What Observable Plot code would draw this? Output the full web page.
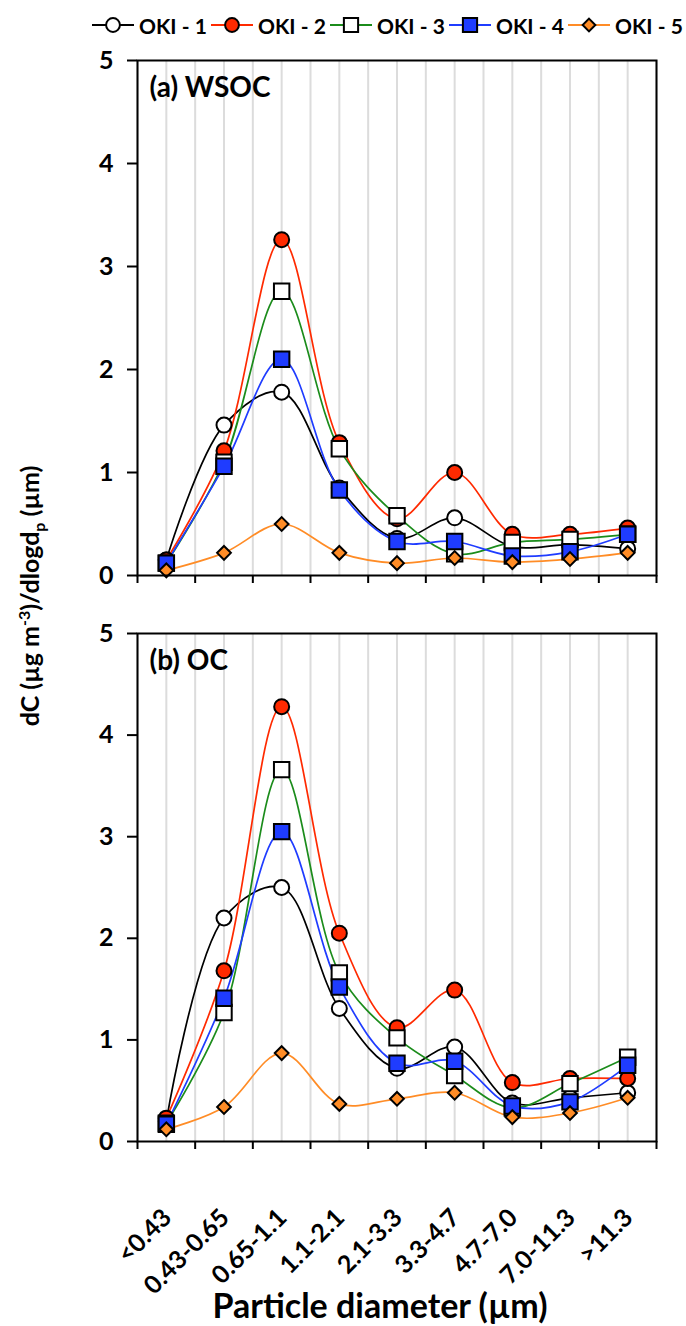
<!DOCTYPE html>
<html><head><meta charset="utf-8">
<script src="https://cdn.jsdelivr.net/npm/d3@7"></script>
<script src="https://cdn.jsdelivr.net/npm/@observablehq/plot@0.6"></script>
<style>
body{margin:0;background:#fff;font-family:Lato,"Open Sans",sans-serif;}
#root{position:relative;width:686px;height:1326px;overflow:hidden;background:#fff;}
.leg{position:absolute;top:13px;height:24px;display:flex;align-items:center;font-weight:bold;font-size:21px;white-space:nowrap;}
.leg svg{margin-right:5px;}
#ytitle{position:absolute;left:31px;top:596px;transform:translate(-50%,-50%) rotate(-90deg);font-weight:bold;font-size:25px;white-space:nowrap;}
#ytitle sup,#ytitle sub{font-size:16px;}
#xtitle{position:absolute;left:380px;top:1318px;transform:translate(-50%,-82%);font-weight:bold;font-size:34px;white-space:nowrap;}
</style></head><body><div id="root"></div>
<script>
// ---- data ----
const categories = ["<0.43","0.43-0.65","0.65-1.1","1.1-2.1","2.1-3.3","3.3-4.7","4.7-7.0","7.0-11.3",">11.3"];
const seriesNames = ["OKI - 1","OKI - 2","OKI - 3","OKI - 4","OKI - 5"];
const wsoc1 = [0.15,1.46,1.78,0.85,0.36,0.56,0.28,0.30,0.26];
const wsoc2 = [0.15,1.21,3.26,1.29,0.55,1.00,0.40,0.40,0.46];
const wsoc3 = [0.12,1.10,2.76,1.23,0.58,0.21,0.32,0.35,0.40];
const wsoc4 = [0.12,1.06,2.10,0.83,0.33,0.33,0.19,0.23,0.40];
const wsoc5 = [0.05,0.22,0.50,0.22,0.12,0.17,0.13,0.16,0.22];
const oc1 = [0.20,2.20,2.50,1.31,0.72,0.93,0.38,0.43,0.48];
const oc2 = [0.23,1.68,4.28,2.05,1.12,1.49,0.58,0.62,0.62];
const oc3 = [0.18,1.27,3.66,1.66,1.02,0.65,0.33,0.57,0.83];
const oc4 = [0.17,1.41,3.05,1.52,0.77,0.79,0.35,0.39,0.75];
const oc5 = [0.12,0.34,0.87,0.37,0.42,0.48,0.24,0.28,0.43];
const yTicks = [0,1,2,3,4,5];

// ---- styles ----
const lineColors = ["#000000","#ff2a00","#1b8c1b","#1f3cff","#ff8c26"];
const fillColors = ["#ffffff","#ff2a00","#ffffff","#1f3cff","#ff8c26"];
const symbols = ["circle","circle","square","square","diamond2"];
const radii = [7.5,7.5,8.7,8.7,6.2];
const FONT = "Lato, 'Open Sans', sans-serif";

const root = document.getElementById("root");

function makePanel(series, label, opt){
  const data = [];
  series.forEach((arr, s) => arr.forEach((v, i) => data.push({s, cat: categories[i], x: i + 0.5, y: v})));
  const marks = [
    Plot.gridX(d3.range(0, 9.001, 0.5), {stroke:"#dcdcdc", strokeOpacity:1, strokeWidth:2})
  ];
  series.forEach((arr, s) => {
    marks.push(Plot.line(data.filter(d => d.s === s), {x:"x", y:"y", curve:"catmull-rom", stroke: lineColors[s], strokeWidth:1.7}));
  });
  series.forEach((arr, s) => {
    marks.push(Plot.dot(data.filter(d => d.s === s), {x:"x", y:"y", symbol: () => symbols[s], r: radii[s], fill: fillColors[s], stroke:"#000", strokeWidth:2}));
  });
  marks.push(
    Plot.frame({stroke:"#000", strokeWidth:2}),
    Plot.axisY(yTicks, {tickSize:10, tickPadding:14, strokeWidth:2, fontSize:25, fontWeight:"bold", fill:"#000", tickFormat:"d", label:null}),
    Plot.axisX(d3.range(0, 10), {tickSize:8, strokeWidth:2, tickFormat:() => "", label:null}),
    Plot.text([label], {frameAnchor:"top-left", dx:12, dy:17, fontSize:28, fontWeight:"bold", fill:"#000", lineAnchor:"top", textAnchor:"start"})
  );
  if (opt.xlabels) {
    marks.push(Plot.axisX(d3.range(9).map(i => i + 0.5), {tickSize:0, tickPadding:52, tickRotate:-45, dx:1, dy:20, fontSize:25, fontWeight:"bold", fill:"#000", tickFormat: v => categories[Math.floor(v)], label:null}));
  }
  const p = Plot.plot({
    width:686, height: opt.height,
    marginTop: opt.mt, marginBottom: opt.mb, marginLeft:137, marginRight:30,
    style:{fontFamily: FONT, background:"transparent", overflow:"visible"},
    x:{type:"linear", domain:[0,9]},
    y:{domain:[0,5]},
    marks
  });
  p.style.position = "absolute";
  p.style.left = "0px";
  p.style.top = opt.top + "px";
  root.appendChild(p);
}

makePanel([wsoc1,wsoc2,wsoc3,wsoc4,wsoc5], "(a) WSOC", {top:40, height:560, mt:20, mb:25});
makePanel([oc1,oc2,oc3,oc4,oc5], "(b) OC", {top:610, height:716, mt:23, mb:185, xlabels:true});

// legend
seriesNames.forEach((name, s) => {
  const div = document.createElement("div");
  div.className = "leg";
  div.style.left = (92 + s * 119) + "px";
  const ns = "http://www.w3.org/2000/svg";
  const svg = document.createElementNS(ns, "svg");
  svg.setAttribute("width", 42); svg.setAttribute("height", 24);
  const ln = document.createElementNS(ns, "line");
  ln.setAttribute("x1", 0); ln.setAttribute("x2", 42); ln.setAttribute("y1", 12); ln.setAttribute("y2", 12);
  ln.setAttribute("stroke", lineColors[s]); ln.setAttribute("stroke-width", 2);
  svg.appendChild(ln);
  const sym = d3.symbol().type({circle:d3.symbolCircle, square:d3.symbolSquare, diamond2:d3.symbolDiamond2}[symbols[s]]).size(Math.PI * radii[s] * radii[s] * 0.85);
  const path = document.createElementNS(ns, "path");
  path.setAttribute("d", sym());
  path.setAttribute("transform", "translate(21,12)");
  path.setAttribute("fill", fillColors[s]); path.setAttribute("stroke", "#000"); path.setAttribute("stroke-width", 2);
  svg.appendChild(path);
  div.appendChild(svg);
  const span = document.createElement("span");
  span.textContent = name;
  div.appendChild(span);
  root.appendChild(div);
});

const yt = document.createElement("div");
yt.id = "ytitle";
yt.innerHTML = "dC (µg m<sup>-3</sup>)/dlogd<sub>p</sub> (µm)";
root.appendChild(yt);

const xt = document.createElement("div");
xt.id = "xtitle";
xt.textContent = "Particle diameter (µm)";
root.appendChild(xt);
</script></body></html>
